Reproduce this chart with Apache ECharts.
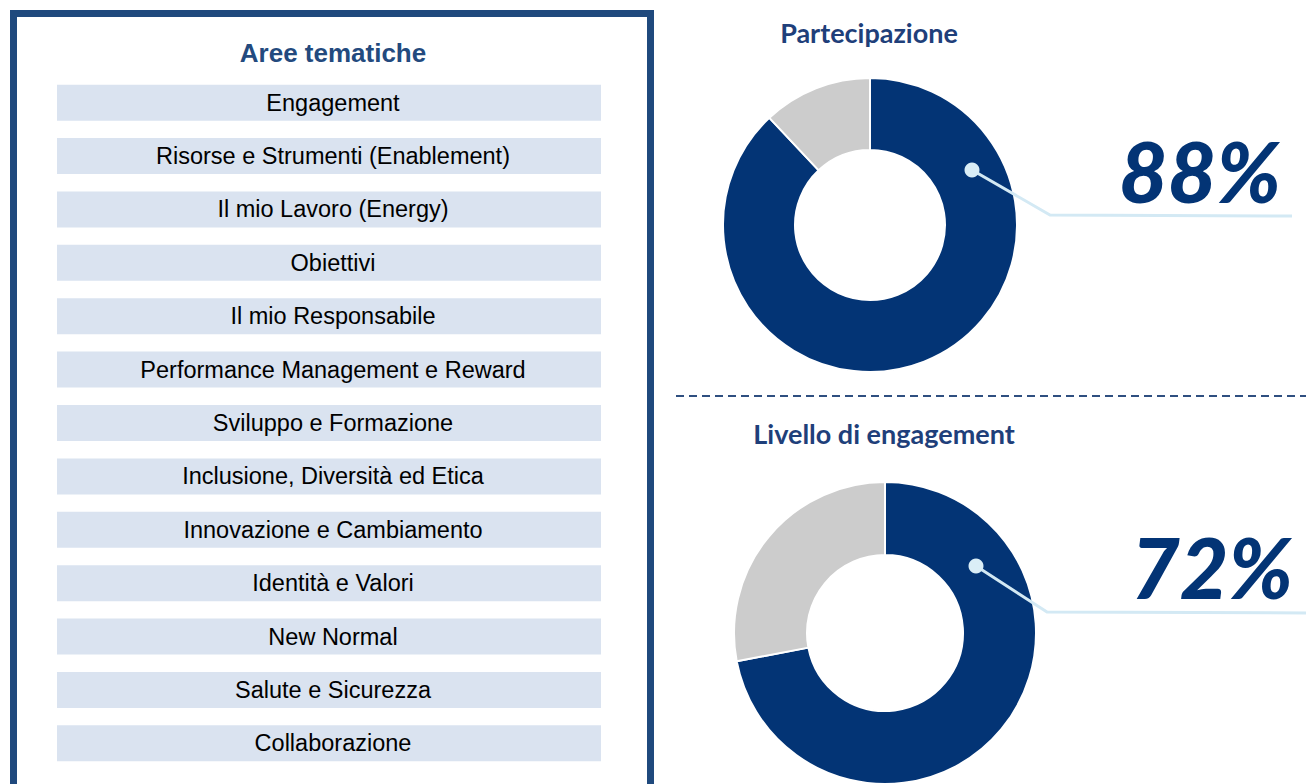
<!DOCTYPE html>
<html>
<head>
<meta charset="utf-8">
<script src="https://cdn.jsdelivr.net/npm/echarts@6/dist/echarts.min.js"></script>
<style>
  html, body { margin: 0; padding: 0; background: #fff; }
  #main { width: 1306px; height: 784px; }
</style>
</head>
<body>
<div id="main"></div>
<script>
// aree tematiche (dall'alto in basso)
const aree = [
  'Engagement',
  'Risorse e Strumenti (Enablement)',
  'Il mio Lavoro (Energy)',
  'Obiettivi',
  'Il mio Responsabile',
  'Performance Management e Reward',
  'Sviluppo e Formazione',
  'Inclusione, Diversità ed Etica',
  'Innovazione e Cambiamento',
  'Identità e Valori',
  'New Normal',
  'Salute e Sicurezza',
  'Collaborazione'
]
const righe = aree.map(() => 1)

// percentuali delle due ciambelle: [valore, resto]
const partecipazione = [88, 12]
const engagement = [72, 28]

const blu = '#033475'
const grigio = '#cccccc'
const azzurro = '#d3e9f4'

const chart = echarts.init(document.getElementById('main'), null, { renderer: 'svg' })

const option = {
  animation: false,
  backgroundColor: '#fff',
  grid: { left: 57, right: 705, top: 76, bottom: 14 },
  xAxis: { type: 'value', min: 0, max: 1, show: false },
  yAxis: {
    type: 'category',
    data: aree,
    inverse: true,
    show: false
  },
  series: [
    {
      type: 'bar',
      data: righe,
      barWidth: 36,
      silent: true,
      itemStyle: { color: '#dae3f0' },
      label: {
        show: true,
        position: 'inside',
        offset: [4, 0],
        formatter: '{b}',
        color: '#000',
        fontSize: 23.5,
        fontFamily: 'Liberation Sans, Arial, sans-serif'
      }
    },
    {
      type: 'pie',
      center: [870, 225],
      radius: [75, 147],
      startAngle: 90,
      silent: true,
      label: { show: false },
      labelLine: { show: false },
      itemStyle: { borderColor: '#fff', borderWidth: 2 },
      data: [
        { name: 'Partecipazione', value: partecipazione[0], itemStyle: { color: blu } },
        { name: 'Altro', value: partecipazione[1], itemStyle: { color: grigio } }
      ]
    },
    {
      type: 'pie',
      center: [885, 633],
      radius: [78, 151],
      startAngle: 90,
      silent: true,
      label: { show: false },
      labelLine: { show: false },
      itemStyle: { borderColor: '#fff', borderWidth: 2 },
      data: [
        { name: 'Engagement', value: engagement[0], itemStyle: { color: blu } },
        { name: 'Altro', value: engagement[1], itemStyle: { color: grigio } }
      ]
    }
  ],
  graphic: [
    // cornice pannello sinistro
    {
      type: 'rect',
      shape: { x: 13.5, y: 13.5, width: 637, height: 800 },
      style: { fill: 'none', stroke: '#1f497d', lineWidth: 7 }
    },
    {
      type: 'text',
      x: 333, y: 53,
      style: {
        text: 'Aree tematiche',
        align: 'center', verticalAlign: 'middle',
        fill: '#234a7e',
        font: 'bold 26px "Liberation Sans", Arial, sans-serif'
      }
    },
    {
      type: 'text',
      x: 869, y: 32,
      style: {
        text: 'Partecipazione',
        align: 'center', verticalAlign: 'middle',
        fill: '#1f3f7a',
        font: 'bold 27px Lato, sans-serif'
      }
    },
    {
      type: 'text',
      x: 884, y: 433,
      style: {
        text: 'Livello di engagement',
        align: 'center', verticalAlign: 'middle',
        fill: '#1f3f7a',
        font: 'bold 27px Lato, sans-serif'
      }
    },
    // separatore tratteggiato
    {
      type: 'line',
      shape: { x1: 676, y1: 396, x2: 1306, y2: 396 },
      style: { stroke: '#2f4f80', lineWidth: 2, lineDash: [8, 5] }
    },
    // richiami
    {
      type: 'polyline',
      shape: { points: [[972, 170], [1050, 215], [1292, 216]] },
      style: { stroke: azzurro, lineWidth: 3, fill: 'none' },
      z: 10
    },
    {
      type: 'circle',
      shape: { cx: 972, cy: 170, r: 7.5 },
      style: { fill: '#daeef7' },
      z: 11
    },
    {
      type: 'polyline',
      shape: { points: [[976, 566], [1047, 612], [1306, 613]] },
      style: { stroke: azzurro, lineWidth: 3, fill: 'none' },
      z: 10
    },
    {
      type: 'circle',
      shape: { cx: 976, cy: 566, r: 7.5 },
      style: { fill: '#daeef7' },
      z: 11
    },
    {
      type: 'text',
      x: 1200, y: 170,
      style: {
        text: partecipazione[0] + '%',
        align: 'center', verticalAlign: 'middle',
        fill: blu,
        font: 'italic 900 84px Lato, sans-serif'
      }
    },
    {
      type: 'text',
      x: 1212, y: 566,
      style: {
        text: engagement[0] + '%',
        align: 'center', verticalAlign: 'middle',
        fill: blu,
        font: 'italic 900 84px Lato, sans-serif'
      }
    }
  ]
}

chart.setOption(option)
</script>
</body>
</html>
